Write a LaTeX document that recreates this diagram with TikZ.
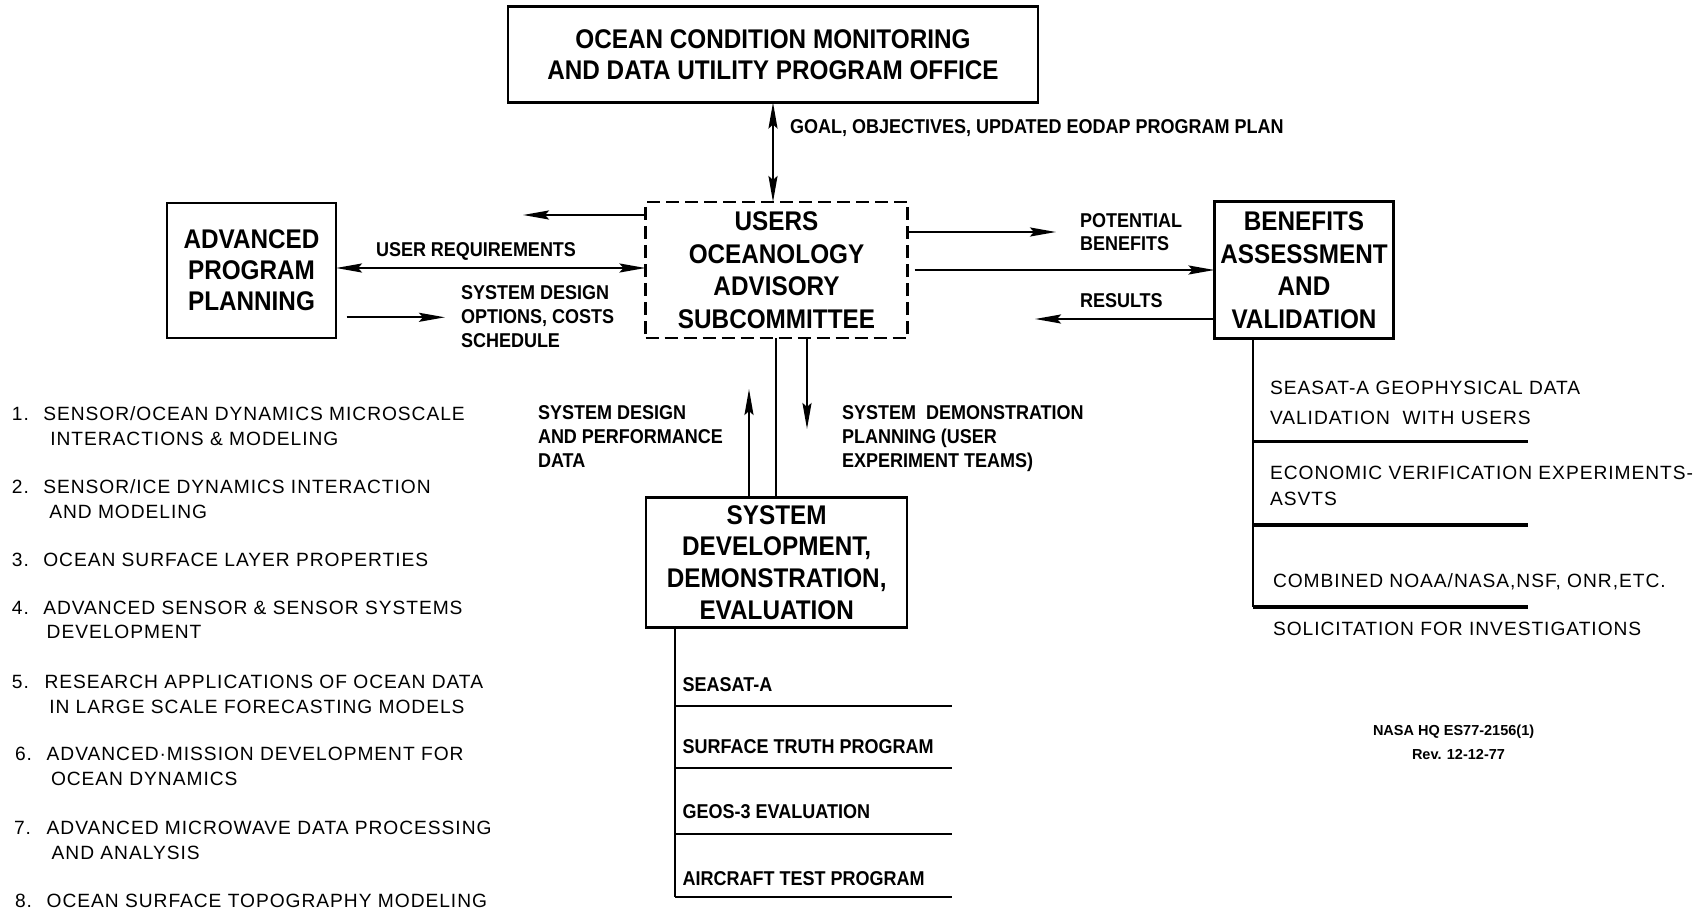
\documentclass[tikz,border=0pt]{standalone}
\usepackage{fontspec}
\setmainfont{Liberation Sans}
\newfontfamily\headfont{Liberation Sans}[FakeStretch=0.9]
\newfontfamily\listfont{Liberation Sans}[LetterSpace=5]
\usetikzlibrary{arrows.meta}
\begin{document}
\begin{tikzpicture}[x=1pt,y=-1pt,
  >={Stealth[length=26pt,width=9pt,inset=4pt]},
  every node/.style={inner sep=0pt, outer sep=0pt},
  bx/.style={draw, line width=2.4pt, align=center,
    font=\headfont\bfseries\fontsize{27}{32.5}\selectfont},
  lbl/.style={align=left, font=\headfont\bfseries\fontsize{20}{24}\selectfont},
  lst/.style={align=left, font=\listfont\fontsize{19.2}{25}\selectfont},
  conn/.style={line width=2.3pt},
  sep/.style={line width=3.4pt},
  note/.style={anchor=west, font=\bfseries\fontsize{14.5}{17}\selectfont},
]
\fill[white] (0,0) rectangle (1708,912);

% ---- boxes ----
\node[bx, minimum width=530pt, minimum height=96pt] (office) at (773,54.5)
  {OCEAN CONDITION MONITORING\\[-1.5pt]AND DATA UTILITY PROGRAM OFFICE};
\node[bx, dash pattern=on 13pt off 6pt, minimum width=262pt, minimum height=136pt] (users) at (776.5,270)
  {USERS\\OCEANOLOGY\\ADVISORY\\SUBCOMMITTEE};
\node[bx, minimum width=169pt, minimum height=135pt] (app) at (251.5,270.5)
  {ADVANCED\\[-1.5pt]PROGRAM\\[-1.5pt]PLANNING};
\node[bx, minimum width=179pt, minimum height=137pt] (bav) at (1304,270)
  {BENEFITS\\ASSESSMENT\\AND\\VALIDATION};
\node[bx, minimum width=261pt, minimum height=130pt] (sdde) at (776.7,562.6)
  {SYSTEM\\[-0.7pt]DEVELOPMENT,\\[-0.7pt]DEMONSTRATION,\\[-0.7pt]EVALUATION};

% ---- connectors ----
\draw[conn,<->] (office.south) -- (office.south |- users.north);

\coordinate (usrL) at (523,215);
\draw[conn,->] (users.west |- usrL) -- (usrL);
\coordinate (urY) at (0,268);
\draw[conn,<->] (app.east |- urY) -- (users.west |- urY);
\coordinate (sdS) at (346.5,317.3);
\coordinate (sdE) at (445,317.3);
\draw[conn,->] (sdS) -- (sdE);

\coordinate (pbE) at (1056,232);
\draw[conn,->] (users.east |- pbE) -- (pbE);
\coordinate (toBav) at (914.5,270);
\draw[conn,->] (toBav) -- (bav.west |- toBav);
\coordinate (resE) at (1035,319);
\draw[conn,->] (bav.west |- resE) -- (resE);

\coordinate (upTip) at (749,389);
\draw[conn,->] (sdde.north -| upTip) -- (upTip);
\coordinate (midX) at (776,0);
\draw[conn] (users.south -| midX) -- (sdde.north -| midX);
\coordinate (dnTip) at (807,429);
\draw[conn,->] (users.south -| dnTip) -- (dnTip);

% ---- validation list under the benefits box ----
\coordinate (rl) at (1252.7,0);
\coordinate (r1) at (1528,441.7);
\coordinate (r2) at (1528,525);
\coordinate (r3) at (1528,607);
\draw[conn] (bav.south -| rl) -- (rl |- r3);
\draw[sep] (rl |- r1) -- (r1);
\draw[sep] (rl |- r2) -- (r2);
\draw[sep] (rl |- r3) -- (r3);

% ---- program list under the system box ----
\coordinate (bl) at (675,0);
\coordinate (b1) at (952,705.7);
\coordinate (b2) at (952,768.3);
\coordinate (b3) at (952,834);
\coordinate (b4) at (952,897);
\draw[conn] (sdde.south -| bl) -- (bl |- b4);
\draw[conn] (bl |- b1) -- (b1);
\draw[conn] (bl |- b2) -- (b2);
\draw[conn] (bl |- b3) -- (b3);
\draw[conn] (bl |- b4) -- (b4);

% ---- connector labels ----
\node[lbl, anchor=west] (goal) at (790,128) {GOAL, OBJECTIVES, UPDATED EODAP PROGRAM PLAN};
\node[lbl, anchor=west] (ureq) at (376,251.5) {USER REQUIREMENTS};
\node[lbl, anchor=north west] (sdopt) at (461,285.8) {SYSTEM DESIGN\\OPTIONS, COSTS\\SCHEDULE};
\node[lbl, anchor=north west] (potb) at (1080,213.8) {POTENTIAL\\[-1pt]BENEFITS};
\node[lbl, anchor=west] (res) at (1080,301) {RESULTS};
\node[lbl, anchor=north west] (sdperf) at (538,406) {SYSTEM DESIGN\\AND PERFORMANCE\\DATA};
\node[lbl, anchor=north west] (sdemo) at (842,406) {SYSTEM\ \ DEMONSTRATION\\PLANNING (USER\\EXPERIMENT TEAMS)};

% ---- program items ----
\node[lbl, anchor=west] (p1) at (682.7,685) {SEASAT-A};
\node[lbl, anchor=west] (p2) at (682.7,747) {SURFACE TRUTH PROGRAM};
\node[lbl, anchor=west] (p3) at (682.7,811.7) {GEOS-3 EVALUATION};
\node[lbl, anchor=west] (p4) at (682.7,878.3) {AIRCRAFT TEST PROGRAM};

% ---- validation items ----
\node[lst, anchor=north west] (v1) at (1270,381.3) {SEASAT-A GEOPHYSICAL DATA\\[5pt]VALIDATION\ \ WITH USERS};
\node[lst, anchor=north west] (v2) at (1270,466.3) {ECONOMIC VERIFICATION EXPERIMENTS-\\[0.5pt]ASVTS};
\node[lst, anchor=west] (v3) at (1273,581.7) {COMBINED NOAA/NASA,NSF, ONR,ETC.};
\node[lst, anchor=west] (v4) at (1273,629) {SOLICITATION FOR INVESTIGATIONS};

% ---- research topics ----
\node[lst, anchor=north west] (i1) at (12,406.3)
  {\makebox[31.3pt][l]{1.}SENSOR/OCEAN DYNAMICS MICROSCALE\\\hspace*{38.3pt}INTERACTIONS \& MODELING};
\node[lst, anchor=north west] (i2) at (12,479.7)
  {\makebox[31.3pt][l]{2.}SENSOR/ICE DYNAMICS INTERACTION\\\hspace*{37.3pt}AND MODELING};
\node[lst, anchor=north west] (i3) at (12,553)
  {\makebox[31.3pt][l]{3.}OCEAN SURFACE LAYER PROPERTIES};
\node[lst, anchor=north west] (i4) at (12,601.3)
  {\makebox[31.3pt][l]{4.}ADVANCED SENSOR \& SENSOR SYSTEMS\\[-1.6pt]\hspace*{34.7pt}DEVELOPMENT};
\node[lst, anchor=north west] (i5) at (12,674.7)
  {\makebox[32.6pt][l]{5.}RESEARCH APPLICATIONS OF OCEAN DATA\\\hspace*{37.3pt}IN LARGE SCALE FORECASTING MODELS};
\node[lst, anchor=north west] (i6) at (15,747.5)
  {\makebox[31.7pt][l]{6.}ADVANCED·MISSION DEVELOPMENT FOR\\[0pt]\hspace*{36pt}OCEAN DYNAMICS};
\node[lst, anchor=north west] (i7) at (14,820.6)
  {\makebox[32.7pt][l]{7.}ADVANCED MICROWAVE DATA PROCESSING\\[0pt]\hspace*{37.7pt}AND ANALYSIS};
\node[lst, anchor=north west] (i8) at (15,894.4)
  {\makebox[31.7pt][l]{8.}OCEAN SURFACE TOPOGRAPHY MODELING};

% ---- document reference ----
\node[note] (nasa) at (1373,732) {NASA HQ ES77-2156(1)};
\node[note] (rev) at (1412,755) {Rev. 12-12-77};
\end{tikzpicture}
\end{document}
